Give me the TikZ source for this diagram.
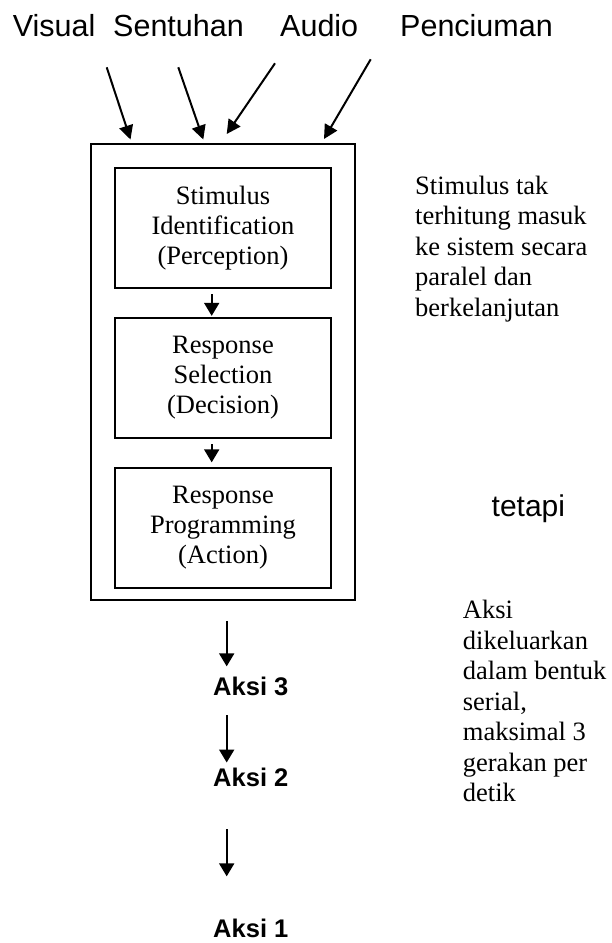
\documentclass[tikz,border=0pt]{standalone}
\usepackage{fontspec}
\setmainfont{Liberation Serif}
\newfontfamily\arialfont{Liberation Sans}
\usetikzlibrary{arrows.meta}
\tikzset{
  stagebox/.style={draw, line width=1.8pt, minimum width=216pt, minimum height=119.5pt, inner sep=0pt, align=center, font=\fontsize{26.5}{30}\selectfont},
  outerbox/.style={draw, line width=1.8pt, minimum width=264pt, minimum height=456pt, inner sep=0pt},
  sense/.style={font=\arialfont\fontsize{30.5}{36}\selectfont, inner sep=0pt, anchor=base west},
  note/.style={font=\fontsize{26.5}{30.5}\selectfont, inner sep=0pt, align=left, anchor=north west},
  aksi/.style={font=\arialfont\bfseries\fontsize{25.5}{30}\selectfont, inner sep=0pt, anchor=base},
  arr/.style={line width=2pt, -{Triangle[length=14pt,width=14pt]}},
  arrs/.style={line width=2pt, -{Triangle[length=13pt,width=15pt]}},
}
\begin{document}
\begin{tikzpicture}[x=1pt,y=-1pt]
\useasboundingbox (0,0) rectangle (612,943);
% sense labels
\node[sense] (visual) at (12.7,36.5) {Visual};
\node[sense] (sentuhan) at (113,36.5) {Sentuhan};
\node[sense] (audio) at (280,36.5) {Audio};
\node[sense] (penciuman) at (400,36.5) {Penciuman};
% boxes
\node[outerbox] (outer) at (223,372) {};
\node[stagebox] (b1) at (223,228) {Stimulus\\Identification\\(Perception)};
\node[stagebox] (b2) at (223,378) {Response\\Selection\\(Decision)};
\node[stagebox] (b3) at (223,528) {Response\\Programming\\(Action)};
% input arrows
\coordinate (s1) at (106.7,67.3); \coordinate (t1) at (130.5,139.5);
\coordinate (s2) at (178.3,67.3); \coordinate (t2) at (203.3,139.5);
\coordinate (s3) at (275,63.3);   \coordinate (t3) at (226.7,134);
\coordinate (s4) at (370.7,59.3); \coordinate (t4) at (324,139);
\draw[arr] (s1) -- (t1);
\draw[arr] (s2) -- (t2);
\draw[arr] (s3) -- (t3);
\draw[arr] (s4) -- (t4);
% inner arrows
\draw[arrs, shorten <=5.5pt, shorten >=1.5pt] ([xshift=-11.3pt]b1.south) -- ([xshift=-11.3pt]b2.north);
\draw[arrs, shorten <=5.5pt, shorten >=5pt] ([xshift=-11.3pt]b2.south) -- ([xshift=-11.3pt]b3.north);
% notes
\node[note] (n1) at (415,175.5) {Stimulus tak\\terhitung masuk\\ke sistem secara\\paralel dan\\berkelanjutan};
\node[font=\arialfont\fontsize{30}{36}\selectfont, inner sep=0pt, anchor=base west] (tetapi) at (491.5,516) {tetapi};
\node[note] (n2) at (462.7,600) {Aksi\\dikeluarkan\\dalam bentuk\\serial,\\maksimal 3\\gerakan per\\detik};
% actions
\node[aksi] (a3) at (250.8,695) {Aksi 3};
\node[aksi] (a2) at (250.8,786.7) {Aksi 2};
\node[aksi] (a1) at (250.8,937) {Aksi 1};
\coordinate (ax) at (226.7,0);
\draw[arrs, shorten <=20pt, shorten >=10pt] (ax |- outer.south) -- (ax |- a3.north);
\draw[arrs, shorten <=20pt, shorten >=5.5pt] (ax |- a3.south) -- (ax |- a2.north);
\draw[arrs, shorten <=42.3pt, shorten >=42pt] (ax |- a2.south) -- (ax |- a1.north);
\end{tikzpicture}
\end{document}
